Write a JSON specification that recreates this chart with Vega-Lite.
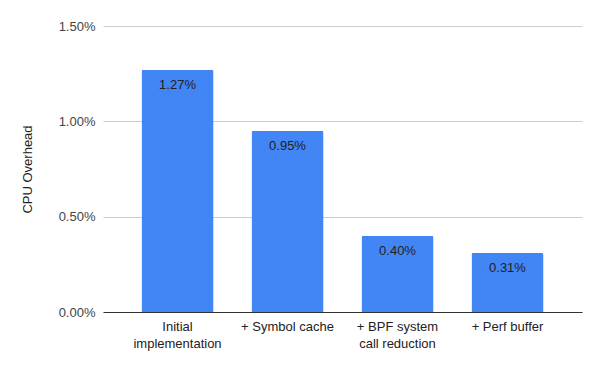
{
  "$schema": "https://vega.github.io/schema/vega-lite/v6.json",
  "autosize": "none",
  "width": 479,
  "height": 286,
  "padding": {"left": 103, "top": 26, "right": 18, "bottom": 59},
  "background": "white",
  "config": {
    "font": "Liberation Sans",
    "view": {"stroke": null}
  },
  "data": {
    "values": [
      {"step": "Initial implementation", "overhead": 0.0127},
      {"step": "+ Symbol cache", "overhead": 0.0095},
      {"step": "+ BPF system call reduction", "overhead": 0.0040},
      {"step": "+ Perf buffer", "overhead": 0.0031}
    ]
  },
  "encoding": {
    "x": {
      "field": "step",
      "type": "nominal",
      "sort": null,
      "scale": {"paddingInner": 0.345, "paddingOuter": 0.35},
      "axis": {
        "title": null,
        "labelAngle": 0,
        "labelFontSize": 13,
        "labelColor": "#222222",
        "labelPadding": 8,
        "labelLineHeight": 17,
        "ticks": false,
        "domainColor": "#333333",
        "domainWidth": 1,
        "labelExpr": "datum.value == 'Initial implementation' ? ['Initial', 'implementation'] : datum.value == '+ BPF system call reduction' ? ['+ BPF system', 'call reduction'] : datum.label"
      }
    },
    "y": {
      "field": "overhead",
      "type": "quantitative",
      "scale": {"domain": [0, 0.015]},
      "axis": {
        "title": "CPU Overhead",
        "titleFont": "Liberation Sans",
        "titleFontWeight": "normal",
        "titleFontSize": 13,
        "titleColor": "#222222",
        "titlePadding": 24,
        "format": ".2%",
        "values": [0, 0.005, 0.01, 0.015],
        "labelFontSize": 13,
        "labelColor": "#444444",
        "labelPadding": 8,
        "ticks": false,
        "domain": false,
        "gridColor": "#cccccc",
        "gridWidth": 1
      }
    }
  },
  "layer": [
    {
      "mark": {"type": "bar", "color": "#4285F4", "cornerRadiusTopLeft": 2, "cornerRadiusTopRight": 2}
    },
    {
      "mark": {"type": "text", "baseline": "top", "dy": 9, "fontSize": 13, "color": "#222222"},
      "encoding": {
        "text": {"field": "overhead", "type": "quantitative", "format": ".2%"}
      }
    }
  ]
}
